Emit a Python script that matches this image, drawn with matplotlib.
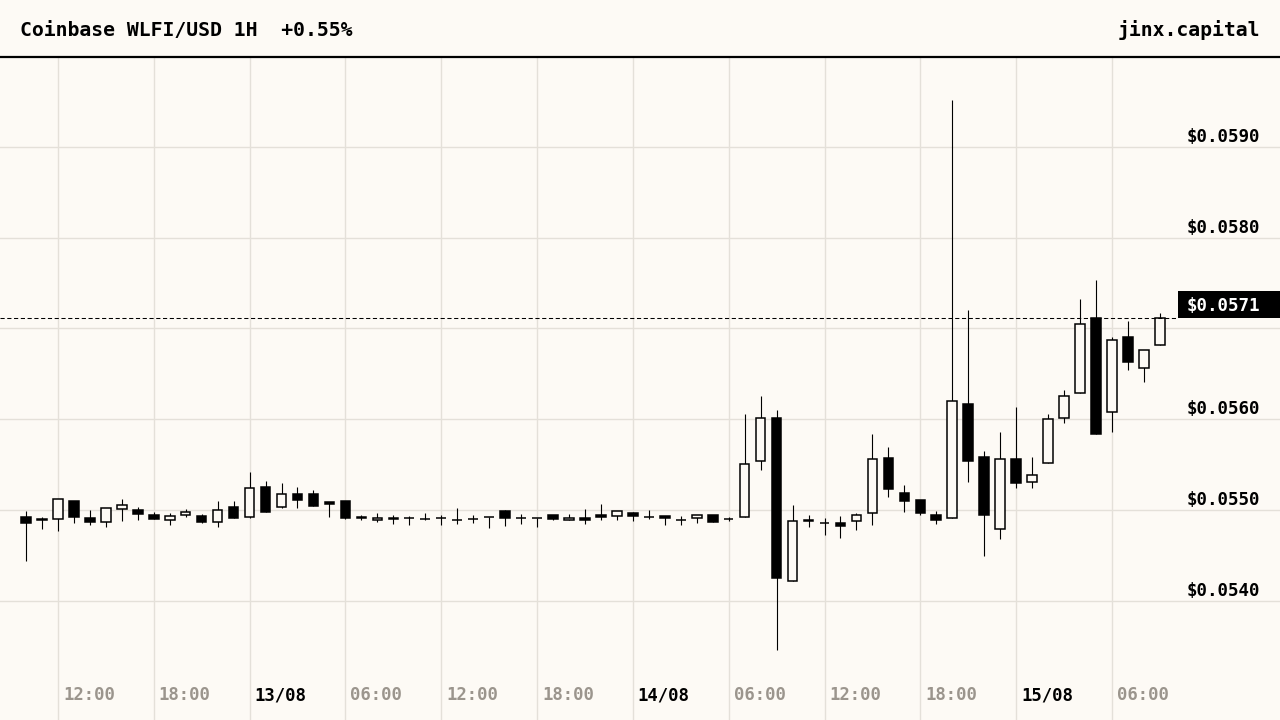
import matplotlib.pyplot as plt
import pandas as pd
from matplotlib.lines import Line2D
from matplotlib.patches import Rectangle
from matplotlib import transforms

BG = "#fdfaf5"
GRID = "#e4e0d9"
MUTED = "#9b958d"
FONT = "DejaVu Sans Mono"

TITLE = "Coinbase WLFI/USD 1H  +0.55%"
BRAND = "jinx.capital"
START = "2025-08-12 10:00"

# hourly candles, 12/08 10:00 -> 15/08 09:00
opens = [
    0.05492, 0.05490, 0.05490, 0.05510, 0.05491, 0.05487, 0.05501, 0.05500,
    0.05495, 0.05489, 0.05494, 0.05493, 0.05487, 0.05503, 0.05492, 0.05525,
    0.05503, 0.05518, 0.05518, 0.05509, 0.05510, 0.05492, 0.05489, 0.05491,
    0.05491, 0.05490, 0.05491, 0.05489, 0.05490, 0.05492, 0.05499, 0.05491,
    0.05491, 0.05494, 0.05489, 0.05491, 0.05494, 0.05493, 0.05497, 0.05492,
    0.05493, 0.05489, 0.05491, 0.05495, 0.05490, 0.05492, 0.05554, 0.05601,
    0.05422, 0.05489, 0.05486, 0.05486, 0.05488, 0.05497, 0.05557, 0.05519,
    0.05511, 0.05494, 0.05491, 0.05617, 0.05558, 0.05479, 0.05556, 0.05531,
    0.05552, 0.05601, 0.05629, 0.05711, 0.05608, 0.05690, 0.05656, 0.05682,
]
highs = [
    0.05499, 0.05492, 0.05512, 0.05510, 0.05500, 0.05502, 0.05512, 0.05503,
    0.05498, 0.05497, 0.05501, 0.05496, 0.05510, 0.05510, 0.05542, 0.05532,
    0.05530, 0.05525, 0.05522, 0.05509, 0.05510, 0.05494, 0.05497, 0.05494,
    0.05493, 0.05497, 0.05495, 0.05502, 0.05494, 0.05492, 0.05500, 0.05496,
    0.05491, 0.05494, 0.05496, 0.05501, 0.05507, 0.05499, 0.05498, 0.05500,
    0.05493, 0.05493, 0.05495, 0.05495, 0.05492, 0.05606, 0.05626, 0.05610,
    0.05506, 0.05494, 0.05491, 0.05493, 0.05497, 0.05584, 0.05569, 0.05527,
    0.05511, 0.05499, 0.05952, 0.05720, 0.05565, 0.05586, 0.05613, 0.05558,
    0.05606, 0.05632, 0.05732, 0.05753, 0.05691, 0.05708, 0.05676, 0.05717,
]
lows = [
    0.05444, 0.05479, 0.05477, 0.05486, 0.05484, 0.05481, 0.05488, 0.05489,
    0.05490, 0.05484, 0.05492, 0.05486, 0.05481, 0.05491, 0.05491, 0.05498,
    0.05502, 0.05502, 0.05504, 0.05492, 0.05490, 0.05489, 0.05487, 0.05485,
    0.05484, 0.05489, 0.05484, 0.05485, 0.05486, 0.05480, 0.05482, 0.05485,
    0.05481, 0.05489, 0.05489, 0.05485, 0.05489, 0.05489, 0.05488, 0.05490,
    0.05483, 0.05484, 0.05486, 0.05487, 0.05488, 0.05492, 0.05544, 0.05346,
    0.05422, 0.05481, 0.05473, 0.05469, 0.05478, 0.05484, 0.05514, 0.05498,
    0.05495, 0.05485, 0.05491, 0.05531, 0.05449, 0.05468, 0.05524, 0.05524,
    0.05552, 0.05596, 0.05629, 0.05584, 0.05586, 0.05654, 0.05641, 0.05682,
]
closes = [
    0.05486, 0.05489, 0.05512, 0.05492, 0.05487, 0.05502, 0.05506, 0.05496,
    0.05490, 0.05493, 0.05498, 0.05487, 0.05500, 0.05491, 0.05524, 0.05498,
    0.05518, 0.05511, 0.05504, 0.05507, 0.05491, 0.05491, 0.05491, 0.05490,
    0.05491, 0.05490, 0.05491, 0.05489, 0.05490, 0.05492, 0.05491, 0.05491,
    0.05491, 0.05490, 0.05491, 0.05489, 0.05492, 0.05499, 0.05493, 0.05492,
    0.05491, 0.05489, 0.05495, 0.05487, 0.05490, 0.05551, 0.05601, 0.05425,
    0.05488, 0.05488, 0.05486, 0.05482, 0.05494, 0.05556, 0.05523, 0.05510,
    0.05497, 0.05489, 0.05620, 0.05554, 0.05495, 0.05556, 0.05530, 0.05539,
    0.05600, 0.05626, 0.05705, 0.05584, 0.05687, 0.05663, 0.05676, 0.05711,
]
price_ticks = [0.0540, 0.0550, 0.0560, 0.0570, 0.0580, 0.0590]

times = pd.date_range(START, periods=len(closes), freq="h")

W, H = 1280, 720
HEADER = 57          # px of header band
PX_PER_BAR = 15.97   # horizontal spacing of candles
FIRST_X = 26         # px of first candle
Y_LO, Y_HI = 0.052687, 0.059989

fig = plt.figure(figsize=(W / 100, H / 100), dpi=100, facecolor=BG)
ax = fig.add_axes([0, 0, 1, 1 - HEADER / H])
ax.set_facecolor(BG)
ax.set_xlim(-FIRST_X / PX_PER_BAR, (W - FIRST_X) / PX_PER_BAR)
ax.set_ylim(Y_LO, Y_HI)
for s in ax.spines.values():
    s.set_visible(False)
ax.set_xticks([])
ax.set_yticks([])

price_per_px = (Y_HI - Y_LO) / (H - HEADER)

# grid
for p in price_ticks:
    ax.axhline(p, color=GRID, lw=1.0, zorder=0)
for i, t in enumerate(times):
    if t.hour % 6 == 0:
        ax.axvline(i, color=GRID, lw=1.0, zorder=0)
        if t.hour == 0:
            label, col = t.strftime("%d/%m"), "black"
        else:
            label, col = t.strftime("%H:%M"), MUTED
        ax.annotate(label, xy=(i, 0), xycoords=("data", "axes fraction"),
                    xytext=(5, 20), textcoords="offset pixels",
                    ha="left", va="baseline", fontsize=12.4,
                    family=FONT, weight="bold", color=col)

# candles
body_w = 0.60
for i in range(len(closes)):
    o, h, l, c = opens[i], highs[i], lows[i], closes[i]
    up = c >= o
    ax.vlines(i, l, h, color="black", lw=0.8, zorder=2)
    ax.add_patch(Rectangle((i - body_w / 2, min(o, c)), body_w, abs(c - o),
                           facecolor=BG if up else "black", edgecolor="black",
                           lw=1.1, zorder=3))

# last price
last = closes[-1]
box_left = 1178 / W
ax.axhline(last, xmax=box_left, color="black", lw=0.75, dashes=(4, 2.5), zorder=4)
blend = transforms.blended_transform_factory(ax.transAxes, ax.transData)
ax.add_patch(Rectangle((box_left, last), 1 - box_left, 27 * price_per_px,
                       transform=blend, facecolor="black", edgecolor="none",
                       clip_on=False, zorder=5))
ax.annotate(f"${last:.4f}", xy=(1, last), xycoords=("axes fraction", "data"),
            xytext=(-20, 7), textcoords="offset pixels", ha="right", va="baseline",
            fontsize=12.6, family=FONT, weight="bold", color="white", zorder=6)

# price labels
for p in price_ticks:
    if abs(p - last) < 30 * price_per_px:
        continue
    ax.annotate(f"${p:.4f}", xy=(1, p), xycoords=("axes fraction", "data"),
                xytext=(-20, 5), textcoords="offset pixels", ha="right",
                va="baseline", fontsize=12.6, family=FONT, weight="bold",
                color="black")

# header
fig.add_artist(Line2D([0, 1], [1 - HEADER / H, 1 - HEADER / H], color="black",
                      lw=1.6, transform=fig.transFigure))
fig.text(20 / W, 1 - 36 / H, TITLE, ha="left", va="baseline", fontsize=14.2,
         family=FONT, weight="bold", color="black")
fig.text(1260 / W, 1 - 36 / H, BRAND, ha="right", va="baseline", fontsize=14.2,
         family=FONT, weight="bold", color="black")

fig.savefig("out.png", dpi=100, facecolor=BG)
